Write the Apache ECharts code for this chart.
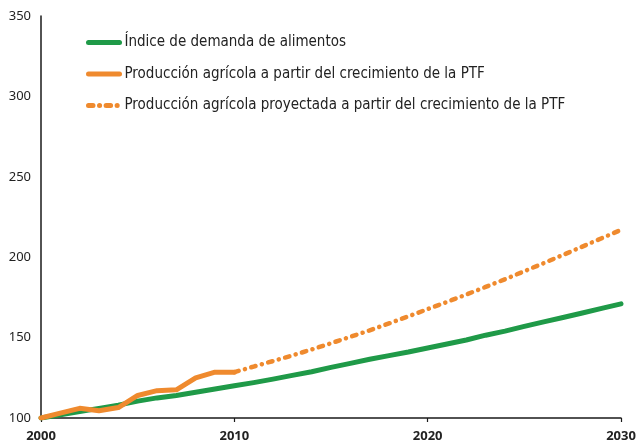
<!DOCTYPE html>
<html>
<head>
<meta charset="utf-8">
<script src="https://cdn.jsdelivr.net/npm/echarts@6/dist/echarts.min.js"></script>
<style>
  html, body { margin: 0; padding: 0; background: #ffffff; }
  #chart { width: 636px; height: 443px; }
</style>
</head>
<body>
<div id="chart"></div>
<script>
// data
var yearsAll = [2000, 2001, 2002, 2003, 2004, 2005, 2006, 2007, 2008, 2009, 2010,
  2011, 2012, 2013, 2014, 2015, 2016, 2017, 2018, 2019, 2020,
  2021, 2022, 2023, 2024, 2025, 2026, 2027, 2028, 2029, 2030]
var yearsActual = [2000, 2001, 2002, 2003, 2004, 2005, 2006, 2007, 2008, 2009, 2010]
var yearsProjected = [2010, 2011, 2012, 2013, 2014, 2015, 2016, 2017, 2018, 2019, 2020,
  2021, 2022, 2023, 2024, 2025, 2026, 2027, 2028, 2029, 2030]

var demandIndex = [100, 102, 104, 106, 108, 110.5, 112.5, 114, 116, 118, 120,
  122, 124.2, 126.5, 128.8, 131.5, 134, 136.5, 138.8, 141, 143.5,
  146, 148.5, 151.5, 154, 157, 159.8, 162.5, 165.3, 168.2, 171]
var prodActual = [100, 103, 106, 104.5, 106.5, 114, 117, 117.5, 125, 128.5, 128.5]
var prodProjected = [128.5, 132, 135.4, 138.9, 142.6, 146.5, 150.5, 154.5, 158.8, 163.2, 167.7,
  172.2, 176.8, 181.5, 186.3, 191.3, 196.3, 201.4, 206.6, 211.8, 217]

var seriesNames = [
  'Índice de demanda de alimentos',
  'Producción agrícola a partir del crecimiento de la PTF',
  'Producción agrícola proyectada a partir del crecimiento de la PTF'
]
var xTicks = [2000, 2010, 2020, 2030]
var yTicks = [100, 150, 200, 250, 300, 350]

function pairs(xs, ys) {
  return xs.map(function (x, i) { return [x, ys[i]] })
}

var green = '#1f9a48'
var orange = '#ef8a2e'
var legendFont = '"Liberation Sans Narrow", "DejaVu Sans Condensed", "Liberation Sans", sans-serif'
var axisFont = '"Noto Sans", "Liberation Sans", sans-serif'

var myChart = echarts.init(document.getElementById('chart'), null, { renderer: 'canvas' })

var option = {
  animation: false,
  backgroundColor: '#ffffff',
  grid: {
    left: 41,
    right: 15,
    top: 16,
    bottom: 25,
    containLabel: false,
    outerBoundsMode: 'none'
  },
  legend: {
    orient: 'vertical',
    left: 81,
    top: 30,
    itemWidth: 31,
    itemHeight: 14,
    itemGap: 16.5,
    data: seriesNames,
    textStyle: {
      fontFamily: legendFont,
      fontSize: 15,
      color: '#222'
    },
    lineStyle: { width: 5 },
    itemStyle: { color: 'transparent', borderWidth: 0, opacity: 0 }
  },
  xAxis: {
    type: 'value',
    min: xTicks[0],
    max: xTicks[xTicks.length - 1],
    interval: 10,
    splitLine: { show: false },
    axisLine: { lineStyle: { color: '#1a1a1a', width: 1.5 } },
    axisTick: { show: true, length: 4, lineStyle: { color: '#1a1a1a', width: 1.2 } },
    axisLabel: {
      fontFamily: axisFont,
      fontSize: 13,
      fontWeight: 'bold',
      color: '#222',
      margin: 12,
      formatter: function (v) { return String(v) }
    }
  },
  yAxis: {
    type: 'value',
    min: yTicks[0],
    max: yTicks[yTicks.length - 1],
    interval: 50,
    splitLine: { show: false },
    axisLine: { show: true, lineStyle: { color: '#1a1a1a', width: 1.5 } },
    axisTick: { show: false },
    axisLabel: {
      fontFamily: axisFont,
      fontSize: 13,
      color: '#222',
      margin: 10
    }
  },
  series: [{
    name: seriesNames[0],
    type: 'line',
    data: pairs(yearsAll, demandIndex),
    symbol: 'none',
    color: green,
    lineStyle: { color: green, width: 5, cap: 'round', join: 'round' },
    z: 2
  }, {
    name: seriesNames[1],
    type: 'line',
    data: pairs(yearsActual, prodActual),
    symbol: 'none',
    color: orange,
    lineStyle: { color: orange, width: 5, cap: 'round', join: 'round' },
    z: 3
  }, {
    name: seriesNames[2],
    type: 'line',
    data: pairs(yearsProjected, prodProjected),
    symbol: 'none',
    color: orange,
    lineStyle: { color: orange, width: 4.5, type: [4.5, 6.5, 0.1, 6.5], cap: 'round', join: 'round' },
    z: 3
  }]
}

myChart.setOption(option)
</script>
</body>
</html>
